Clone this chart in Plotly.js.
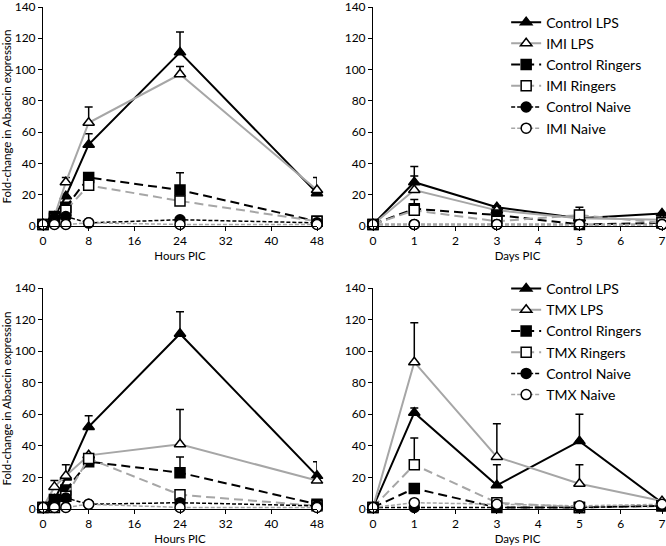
<!DOCTYPE html>
<html><head><meta charset="utf-8">
<script src="https://cdn.plot.ly/plotly-3.0.1.min.js"></script>
<style>html,body{margin:0;padding:0;background:#fff}#chart{width:666px;height:546px}</style>
</head><body><div id="chart"></div>
<script>
// x values
const hours = [0, 2, 4, 8, 24, 48];
const days = [0, 1, 3, 5, 7];
const hourTicks = [0, 8, 16, 24, 32, 40, 48];
const dayTicks = [0, 1, 2, 3, 4, 5, 6, 7];
const yTicks = [0, 20, 40, 60, 80, 100, 120, 140];

// series names
const namesTop = ["Control LPS", "IMI LPS", "Control Ringers", "IMI Ringers", "Control Naive", "IMI Naive"];
const namesBot = ["Control LPS", "TMX LPS", "Control Ringers", "TMX Ringers", "Control Naive", "TMX Naive"];

// IMI, hours
const imiH_ctrlLPS = [1, 6, 19, 52, 111, 21];
const imiH_ctrlLPS_err = [null, null, null, 7, 13, 10];
const imiH_imiLPS = [1, 6, 28, 66, 97, 23];
const imiH_imiLPS_err = [null, null, 3, 10, 5, null];
const imiH_ctrlRing = [1, 6, 12, 31, 23, 3];
const imiH_ctrlRing_err = [null, null, null, null, 11, null];
const imiH_imiRing = [1, 5, 10, 26, 16, 3];
const imiH_ctrlNaive = [1, 5, 6, 2, 4, 2];
const imiH_imiNaive = [1, 1, 1, 2, 1, 1];

// IMI, days
const imiD_ctrlLPS = [1, 28, 12, 5, 8];
const imiD_ctrlLPS_err = [null, 10, 1, null, null];
const imiD_imiLPS = [1, 23, 10, 5, 4];
const imiD_imiLPS_err = [null, 9, null, null, null];
const imiD_ctrlRing = [1, 11, 7, 1, 2];
const imiD_imiRing = [1, 10, 3, 7, 2];
const imiD_imiRing_err = [null, 7, null, 5, null];
const imiD_ctrlNaive = [1, 1, 1, 1, 1];
const imiD_imiNaive = [1, 1, 1, 1, 1];

// TMX, hours
const tmxH_ctrlLPS = [1, 6, 20, 52, 111, 21];
const tmxH_ctrlLPS_err = [null, null, null, 7, 14, 9];
const tmxH_tmxLPS = [1, 14, 21, 34, 41, 18];
const tmxH_tmxLPS_err = [null, 4, 7, null, 22, null];
const tmxH_ctrlRing = [1, 6, 12, 30, 23, 3];
const tmxH_ctrlRing_err = [null, null, null, null, 10, null];
const tmxH_tmxRing = [1, 1, 8, 32, 9, 2];
const tmxH_ctrlNaive = [1, 5, 7, 3, 4, 2];
const tmxH_tmxNaive = [1, 1, 1, 3, 1, 1];

// TMX, days
const tmxD_ctrlLPS = [1, 61, 15, 43, 4];
const tmxD_ctrlLPS_err = [null, 3, 13, 17, null];
const tmxD_tmxLPS = [1, 93, 33, 16, 5];
const tmxD_tmxLPS_err = [null, 25, 21, 12, null];
const tmxD_ctrlRing = [1, 13, 1, 1, 2];
const tmxD_tmxRing = [1, 28, 4, 1, 2];
const tmxD_tmxRing_err = [null, 17, null, null, null];
const tmxD_ctrlNaive = [1, 1, 1, 1, 2];
const tmxD_tmxNaive = [1, 4, 3, 2, 3];

const GRAY = "#a6a6a6";
const styles = [
  {color: "#000", dash: "solid", symbol: "triangle-up", fill: "#000", width: 2},
  {color: GRAY, dash: "solid", symbol: "triangle-up", fill: "#fff", width: 2},
  {color: "#000", dash: "9px,5px", symbol: "square", fill: "#000", width: 2},
  {color: GRAY, dash: "9px,5px", symbol: "square", fill: "#fff", width: 2},
  {color: "#000", dash: "4px,2px", symbol: "circle", fill: "#000", width: 1.5},
  {color: GRAY, dash: "4px,2px", symbol: "circle", fill: "#fff", width: 1.5}
];

function mk(x, y, err, idx, name, xa, ya, legend, showlegend) {
  const s = styles[idx];
  const t = {
    x: x, y: y, name: name, type: "scatter", mode: "lines+markers",
    xaxis: xa, yaxis: ya, legend: legend, showlegend: showlegend, cliponaxis: false,
    line: {color: s.color, dash: s.dash, width: s.width},
    marker: {symbol: s.symbol, size: 10, color: s.fill, line: {color: "#000", width: 1.5}}
  };
  if (err) {
    t.error_y = {type: "data", symmetric: false, array: err, arrayminus: err.map(() => 0),
      color: "#000", thickness: 1.5, width: 4};
  }
  return t;
}

const traces = [];
const tl = [[imiH_ctrlLPS, imiH_ctrlLPS_err], [imiH_imiLPS, imiH_imiLPS_err], [imiH_ctrlRing, imiH_ctrlRing_err],
  [imiH_imiRing, null], [imiH_ctrlNaive, null], [imiH_imiNaive, null]];
tl.forEach((d, i) => traces.push(mk(hours, d[0], d[1], i, namesTop[i], "x", "y", "legend", true)));
const tr = [[imiD_ctrlLPS, imiD_ctrlLPS_err], [imiD_imiLPS, imiD_imiLPS_err], [imiD_ctrlRing, null],
  [imiD_imiRing, imiD_imiRing_err], [imiD_ctrlNaive, null], [imiD_imiNaive, null]];
tr.forEach((d, i) => traces.push(mk(days, d[0], d[1], i, namesTop[i], "x2", "y2", "legend", false)));
const bl = [[tmxH_ctrlLPS, tmxH_ctrlLPS_err], [tmxH_tmxLPS, tmxH_tmxLPS_err], [tmxH_ctrlRing, tmxH_ctrlRing_err],
  [tmxH_tmxRing, null], [tmxH_ctrlNaive, null], [tmxH_tmxNaive, null]];
bl.forEach((d, i) => traces.push(mk(hours, d[0], d[1], i, namesBot[i], "x3", "y3", "legend2", true)));
const br = [[tmxD_ctrlLPS, tmxD_ctrlLPS_err], [tmxD_tmxLPS, tmxD_tmxLPS_err], [tmxD_ctrlRing, null],
  [tmxD_tmxRing, tmxD_tmxRing_err], [tmxD_ctrlNaive, null], [tmxD_tmxNaive, null]];
br.forEach((d, i) => traces.push(mk(days, d[0], d[1], i, namesBot[i], "x4", "y4", "legend2", false)));

const FONT = "Lato, 'Open Sans', sans-serif";
const axBase = {showgrid: false, zeroline: false, showline: true, linecolor: "#000", linewidth: 1,
  ticks: "outside", ticklen: 4, tickcolor: "#000", tickfont: {size: 12, color: "#000"}, fixedrange: true,
  ticklabeloverflow: "allow"};
function xax(domain, anchor, range, ticks, title) {
  return Object.assign({}, axBase, {domain: domain, anchor: anchor, range: range, tickmode: "array",
    tickvals: ticks, ticktext: ticks.map(String), title: {text: title, font: {size: 11.5, color: "#000"}, standoff: 4}});
}
function yax(domain, anchor, title) {
  return Object.assign({}, axBase, {domain: domain, anchor: anchor, range: [0, 140], tickmode: "array",
    tickvals: yTicks, ticktext: yTicks.map(String), title: {text: title, font: {size: 11.5, color: "#000"}, standoff: 6}});
}
const xL = [43/666, 317/666], xR = [373/666, 662/666];
const yT = [(546-226)/546, (546-7)/546], yB = [(546-509)/546, (546-288)/546];
const ytitle = "Fold-change in Abaecin expression";

const layout = {
  width: 666, height: 546, margin: {l: 0, r: 0, t: 0, b: 0},
  paper_bgcolor: "#fff", plot_bgcolor: "#fff",
  font: {family: FONT, color: "#000"},
  xaxis: xax(xL, "y", [0, 48], hourTicks, "Hours PIC"),
  yaxis: yax(yT, "x", ytitle),
  xaxis2: xax(xR, "y2", [0, 7], dayTicks, "Days PIC"),
  yaxis2: yax(yT, "x2", ""),
  xaxis3: xax(xL, "y3", [0, 48], hourTicks, "Hours PIC"),
  yaxis3: yax(yB, "x3", ytitle),
  xaxis4: xax(xR, "y4", [0, 7], dayTicks, "Days PIC"),
  yaxis4: yax(yB, "x4", ""),
  legend: {x: 0.76, y: 0.988, xanchor: "left", yanchor: "top", font: {size: 14, color: "#000"},
    bgcolor: "rgba(0,0,0,0)", tracegroupgap: 0, itemclick: false},
  legend2: {x: 0.76, y: 0.5, xanchor: "left", yanchor: "top", font: {size: 14, color: "#000"},
    bgcolor: "rgba(0,0,0,0)", tracegroupgap: 0, itemclick: false},
  showlegend: true
};
Plotly.newPlot("chart", traces, layout, {displayModeBar: false, staticPlot: true});
</script>
</body></html>
